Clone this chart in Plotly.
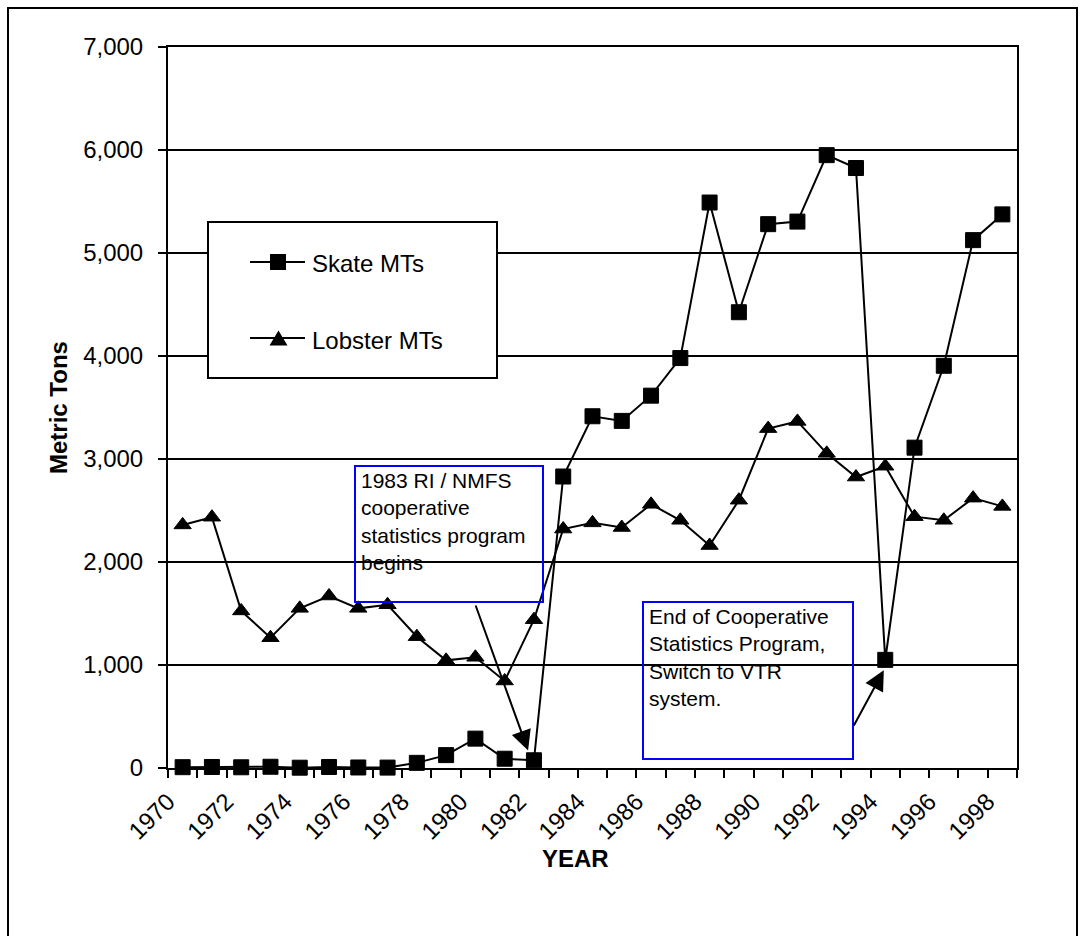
import plotly.graph_objects as go

W, H = 1088, 936
FONT = "Liberation Sans, Arial, sans-serif"

# Annual landings, metric tons
years = list(range(1970, 1999))
skate_mt = [8, 10, 7, 12, 3, 10, 5, 4, 50, 125, 285, 90, 75, 2830, 3415, 3370,
            3615, 3980, 5490, 4425, 5280, 5305, 5950, 5825, 1050, 3110, 3905,
            5125, 5375]
lobster_mt = [2360, 2435, 1525, 1265, 1550, 1670, 1550, 1585, 1275, 1045, 1075,
              845, 1440, 2320, 2380, 2335, 2560, 2405, 2160, 2600, 3295, 3365,
              3055, 2825, 2930, 2440, 2405, 2620, 2540]

tick_years = years + [1999]
tick_text = [str(y) if y % 2 == 0 else "" for y in tick_years]
y_ticks = [0, 1000, 2000, 3000, 4000, 5000, 6000, 7000]


def px(x):
    return x / W


def py(y):
    return 1 - y / H


# plot area in pixels
L, R, T, B = 168, 1017, 47, 768

# categories sit midway between tick marks
x_pos = [y + 0.5 for y in years]

fig = go.Figure()
fig.add_trace(go.Scatter(
    x=x_pos, y=skate_mt, mode="lines+markers", name="Skate MTs",
    line=dict(color="black", width=2),
    marker=dict(symbol="square", size=15, color="black",
                line=dict(color="black", width=1)),
    showlegend=False, cliponaxis=False))
fig.add_trace(go.Scatter(
    x=x_pos, y=lobster_mt, mode="lines+markers", name="Lobster MTs",
    line=dict(color="black", width=2),
    marker=dict(symbol="triangle-up", size=15, color="black",
                line=dict(color="black", width=1)),
    showlegend=False, cliponaxis=False))

shapes = []
# chart frame
shapes.append(dict(type="rect", xref="paper", yref="paper",
                   x0=px(8), x1=px(1077), y0=py(8), y1=py(945),
                   line=dict(color="black", width=2)))
# legend box
shapes.append(dict(type="rect", xref="paper", yref="paper",
                   x0=px(208), x1=px(497), y0=py(222), y1=py(378),
                   fillcolor="white", line=dict(color="black", width=2)))
for ly in (262, 338):
    shapes.append(dict(type="line", xref="paper", yref="paper",
                       x0=px(250), x1=px(305), y0=py(ly), y1=py(ly),
                       line=dict(color="black", width=2)))
shapes.append(dict(type="rect", xref="paper", yref="paper",
                   x0=px(270), x1=px(286), y0=py(254), y1=py(270),
                   fillcolor="black", line=dict(color="black", width=0)))
shapes.append(dict(type="path", xref="paper", yref="paper",
                   path=f"M{px(269.5)},{py(345.5)} L{px(287.5)},{py(345.5)} L{px(278.5)},{py(330.5)} Z",
                   fillcolor="black", line=dict(color="black", width=0)))
# note boxes
shapes.append(dict(type="rect", xref="paper", yref="paper",
                   x0=px(355), x1=px(543), y0=py(466), y1=py(602),
                   line=dict(color="#0000FF", width=2)))
shapes.append(dict(type="rect", xref="paper", yref="paper",
                   x0=px(643), x1=px(853), y0=py(602), y1=py(759),
                   line=dict(color="#0000FF", width=2)))

annotations = [
    dict(text="Skate MTs", xref="paper", yref="paper", x=px(310), y=py(263),
         xanchor="left", yanchor="middle", showarrow=False,
         font=dict(family=FONT, size=24, color="black")),
    dict(text="Lobster MTs", xref="paper", yref="paper", x=px(310), y=py(340),
         xanchor="left", yanchor="middle", showarrow=False,
         font=dict(family=FONT, size=24, color="black")),
    dict(text="1983 RI / NMFS<br>cooperative<br>statistics program<br>begins",
         xref="paper", yref="paper", x=px(359), y=py(467),
         xanchor="left", yanchor="top", align="left", showarrow=False,
         font=dict(family=FONT, size=21, color="black")),
    dict(text="End of Cooperative<br>Statistics Program,<br>Switch to VTR<br>system.",
         xref="paper", yref="paper", x=px(647), y=py(603),
         xanchor="left", yanchor="top", align="left", showarrow=False,
         font=dict(family=FONT, size=21, color="black")),
    # arrows from the notes to the series
    dict(text="", x=1982.3, y=170, xref="x", yref="y",
         ax=1980.49, ay=1592, axref="x", ayref="y",
         showarrow=True, arrowhead=2, arrowsize=2, arrowwidth=2,
         arrowcolor="black", standoff=0, startstandoff=0),
    dict(text="", x=1994.45, y=950, xref="x", yref="y",
         ax=1993.40, ay=398, axref="x", ayref="y",
         showarrow=True, arrowhead=2, arrowsize=2, arrowwidth=2,
         arrowcolor="black", standoff=0, startstandoff=0),
    # axis titles
    dict(text="<b>Metric Tons</b>", xref="paper", yref="paper",
         x=px(58), y=py(408), textangle=-90, showarrow=False,
         xanchor="center", yanchor="middle",
         font=dict(family=FONT, size=24, color="black")),
    dict(text="<b>YEAR</b>", xref="paper", yref="paper",
         x=px(575), y=py(858), showarrow=False,
         xanchor="center", yanchor="middle",
         font=dict(family=FONT, size=24, color="black")),
]

fig.update_layout(
    width=W, height=H, autosize=False,
    margin=dict(l=0, r=0, t=0, b=0, pad=0, autoexpand=False),
    paper_bgcolor="white", plot_bgcolor="white",
    font=dict(family=FONT, size=24, color="black"),
    shapes=shapes, annotations=annotations,
    xaxis=dict(domain=[px(L), px(R)], range=[1970, 1999], automargin=False,
               tickmode="array", tickvals=tick_years, ticktext=tick_text,
               tickangle=-45, ticks="outside", ticklen=8, tickwidth=2,
               tickcolor="black", showline=True, linecolor="black",
               linewidth=2, mirror=True, showgrid=False, zeroline=False,
               tickfont=dict(family=FONT, size=24, color="black")),
    yaxis=dict(domain=[py(B), py(T)], range=[0, 7000], automargin=False,
               tickmode="array", tickvals=y_ticks, tickformat=",d",
               ticks="outside", ticklen=8, tickwidth=2, tickcolor="black",
               showline=True, linecolor="black", linewidth=2, mirror=True,
               showgrid=True, gridcolor="black", gridwidth=1.5,
               zeroline=False, ticklabelstandoff=10,
               tickfont=dict(family=FONT, size=24, color="black")),
)

fig.write_html("out.html")
